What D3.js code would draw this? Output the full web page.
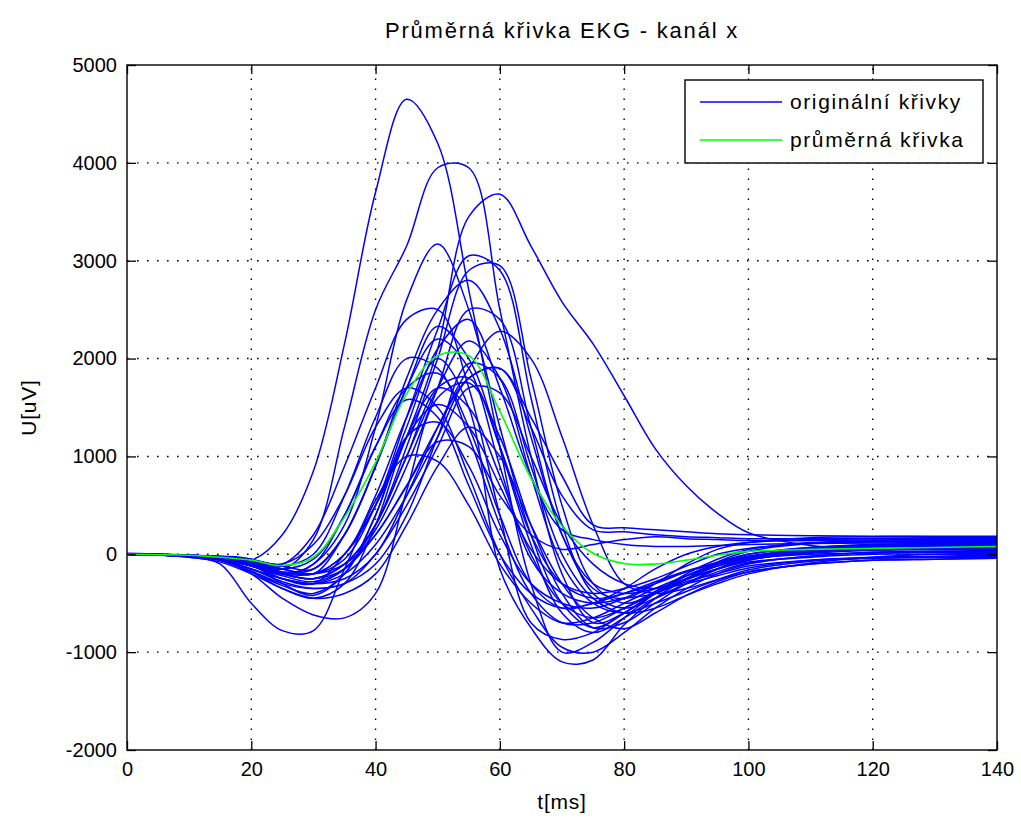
<!DOCTYPE html>
<html>
<head>
<meta charset="utf-8">
<script src="https://cdn.jsdelivr.net/npm/d3@7/dist/d3.min.js"></script>
<style>
  body { margin: 0; background: #fff; }
  svg { display: block; }
  text { font-family: "Liberation Sans", Arial, sans-serif; fill: #000; }
</style>
</head>
<body>
<svg width="1021" height="822"></svg>
<script>
// casy vzorku [ms] - spolecne pro vsechny krivky
var times = [0, 10, 15, 20, 25, 30, 35, 40, 45, 50, 55, 60, 65, 70, 75, 80, 85, 90, 95, 100, 110, 120, 130, 140];

// originalni krivky [uV]
var kA  = [0, -10, -40, -60, 200, 850, 2150, 3700, 4650, 4200, 2700, 1100, -300, -1000, -900, -650, -400, -220, -100, -20, 50, 80, 95, 100];
var kB  = [0, -10, -30, -80, -150, 150, 1300, 2500, 3150, 3950, 3950, 2500, 1000, -200, -700, -600, -400, -280, -200, -120, -60, -40, -30, -30];
var kC  = [10, -10, -40, -100, -250, -300, 0, 500, 1200, 2100, 3450, 3680, 3150, 2580, 2150, 1620, 1080, 700, 420, 220, 90, 60, 60, 60];
var kD  = [0, -20, -50, -120, -200, -100, 300, 1300, 2600, 3170, 2500, 1300, 200, -500, -750, -600, -400, -200, -50, 50, 120, 140, 150, 150];
var kE  = [0, -10, -30, -80, -180, -200, -50, 500, 1400, 2300, 3050, 2900, 1600, 300, -400, -550, -450, -300, -150, -30, 60, 100, 110, 120];
var kF  = [0, -20, -40, -100, -200, -250, -100, 300, 1100, 2000, 2900, 2950, 1800, 500, -300, -500, -400, -250, -120, -30, 30, 60, 70, 80];
var kG  = [0, -10, -30, -60, -120, -150, 200, 900, 1800, 2500, 2800, 2300, 1200, 200, -350, -450, -300, -100, 50, 120, 170, 180, 180, 180];
var kH  = [0, -10, -20, -50, -100, 200, 900, 1700, 2400, 2500, 1700, 400, -700, -870, -800, -600, -400, -250, -150, -80, -30, 0, 0, 0];
var kI  = [0, -20, -50, -150, -250, -300, -250, 0, 600, 1300, 1900, 2280, 2000, 1200, 300, -300, -400, -350, -260, -180, -100, -60, -50, -40];
var kJ  = [0, -10, -40, -100, -150, -200, 200, 900, 1700, 2330, 2000, 1100, 100, -600, -800, -650, -450, -300, -180, -90, -20, 20, 30, 40];
var kK  = [0, -20, -50, -120, -200, -200, 0, 600, 1400, 2000, 1500, -150, -750, -1100, -1080, -720, -450, -250, -80, 30, 110, 130, 140, 140];
var kL1 = [0, -30, -100, -500, -780, -780, -150, 550, 1000, 950, 500, -100, -500, -700, -650, -500, -350, -220, -120, -50, 0, 10, 20, 20];
var kL2 = [0, -20, -60, -200, -450, -620, -650, -400, 650, 1600, 1750, 1200, 300, -400, -750, -700, -500, -300, -150, -40, 50, 80, 90, 90];
var kM  = [0, -10, -40, -100, -200, -250, -100, 300, 1000, 1700, 2180, 1800, 800, -100, -500, -600, -500, -380, -260, -160, -70, -40, -30, -20];
var kN  = [0, -10, -30, -70, -150, -50, 400, 1100, 1700, 1850, 1300, 400, -300, -550, -500, -350, -150, 0, 80, 120, 150, 160, 160, 160];
var kO  = [0, -20, -50, -150, -250, -300, -150, 300, 1000, 1700, 1800, 1100, 200, -300, -450, -400, -300, -180, -80, 0, 70, 100, 110, 110];
var kP  = [0, -10, -20, -50, -200, -100, 400, 1100, 1580, 1400, 700, 0, -400, -550, -500, -400, -280, -170, -90, -30, 30, 60, 70, 70];
var kQ  = [0, -20, -60, -180, -320, -400, -200, 400, 1200, 1530, 1300, 700, 50, -300, -400, -350, -250, -120, 0, 60, 110, 125, 130, 130];
var kR  = [0, -20, -60, -170, -300, -350, -300, 0, 500, 1100, 1700, 1650, 1000, 300, -100, -300, -350, -300, -220, -140, -60, -30, -20, -10];
var kS  = [0, -10, -40, -120, -250, -300, -200, 100, 600, 1200, 1800, 1900, 1300, 600, 250, 230, 200, 180, 170, 160, 160, 165, 170, 170];
var kT  = [0, -10, -30, -80, -150, -200, 0, 500, 1300, 2100, 2400, 1700, 800, 250, 150, 100, 80, 80, 90, 100, 110, 115, 120, 120];
var kU  = [0, -20, -50, -100, -300, -420, -200, 400, 1200, 1350, 900, 200, -300, -500, -550, -450, -300, -180, -100, -40, 10, 40, 50, 50];
var kV  = [0, -20, -60, -150, -280, -350, -300, -100, 400, 1200, 1950, 1800, 900, 0, -450, -600, -550, -420, -300, -200, -90, -30, 0, 10];
var kW  = [0, -30, -80, -200, -350, -450, -400, -200, 300, 900, 1300, 1000, 300, -300, -650, -760, -600, -420, -280, -180, -100, -60, -50, -40];
var kY  = [0, -10, -30, -60, -100, 100, 600, 1300, 1700, 1500, 800, 0, -550, -950, -1000, -800, -550, -350, -200, -100, -20, 20, 30, 30];
var kZ  = [0, -10, -40, -100, -180, -150, 200, 900, 1700, 2200, 1900, 900, -50, -400, -500, -450, -400, -250, -100, 0, 70, 90, 100, 100];
var kAA = [0, -20, -50, -120, -220, -280, -150, 200, 700, 1300, 1800, 1900, 1400, 800, 300, 270, 250, 230, 210, 200, 190, 185, 185, 185];
var kAB = [0, -10, -30, -80, -150, -200, -100, 200, 700, 1150, 1100, 600, 200, 50, 100, 150, 180, 160, 150, 140, 140, 145, 150, 150];
var kAC = [0, -20, -50, -100, -200, -250, -150, 250, 900, 1700, 2500, 2400, 1300, 200, -300, -400, -350, -250, -150, -60, 20, 50, 60, 60];
var kAD = [0, -20, -60, -180, -350, -450, -300, 300, 1200, 1700, 1500, 800, 0, -500, -650, -550, -400, -260, -150, -60, 20, 60, 70, 80];
var kAE = [0, -10, -30, -70, -120, 0, 600, 1400, 2000, 1900, 1200, 300, -400, -700, -700, -550, -380, -220, -100, -20, 40, 70, 80, 90];

var originalCurves = [kA, kB, kC, kD, kE, kF, kG, kH, kI, kJ, kK, kL1, kL2, kM, kN, kO, kP, kQ, kR, kS,
    kT, kU, kV, kW, kY, kZ, kAA, kAB, kAC, kAD, kAE];

// prumerna krivka [uV]
var meanCurve = [0, -10, -30, -60, -115, -30, 380, 940, 1640, 2030, 2030, 1460, 780, 290, 10, -95, -100, -60, -10, 30, 50, 60, 70, 80];

// popisky os
var xTicks = [0, 20, 40, 60, 80, 100, 120, 140];
var yTicks = [-2000, -1000, 0, 1000, 2000, 3000, 4000, 5000];

var svg = d3.select("svg"),
    margin = { top: 65, right: 24, bottom: 72, left: 127 },
    width = +svg.attr("width") - margin.left - margin.right,
    height = +svg.attr("height") - margin.top - margin.bottom,
    g = svg.append("g").attr("transform", "translate(" + margin.left + "," + margin.top + ")");

var x = d3.scaleLinear().domain([0, 140]).range([0, width]);
var y = d3.scaleLinear().domain([-2000, 5000]).range([height, 0]);

// mrizka - teckovane cary
g.append("g")
    .selectAll("line")
    .data(xTicks.slice(1, -1))
    .enter().append("line")
    .attr("x1", function (d) { return x(d); })
    .attr("x2", function (d) { return x(d); })
    .attr("y1", height)
    .attr("y2", 0)
    .attr("stroke", "#000")
    .attr("stroke-width", 1.4)
    .attr("stroke-dasharray", "1.6,8.4");

g.append("g")
    .selectAll("line")
    .data(yTicks.slice(1, -1))
    .enter().append("line")
    .attr("y1", function (d) { return y(d); })
    .attr("y2", function (d) { return y(d); })
    .attr("x1", 0)
    .attr("x2", width)
    .attr("stroke", "#000")
    .attr("stroke-width", 1.4)
    .attr("stroke-dasharray", "1.6,8.4");

// krivky
g.append("clipPath").attr("id", "plotclip")
    .append("rect").attr("width", width).attr("height", height);

var line = d3.line()
    .x(function (d, i) { return x(times[i]); })
    .y(function (d) { return y(d); })
    .curve(d3.curveCatmullRom.alpha(0.5));

var plot = g.append("g").attr("clip-path", "url(#plotclip)");

plot.selectAll(".orig")
    .data(originalCurves)
    .enter().append("path")
    .attr("class", "orig")
    .attr("d", line)
    .attr("fill", "none")
    .attr("stroke", "#0000ff")
    .attr("stroke-width", 1.5);

plot.append("path")
    .datum(meanCurve)
    .attr("d", line)
    .attr("fill", "none")
    .attr("stroke", "#00ff00")
    .attr("stroke-width", 1.6);

// osy - znacky dovnitr jako v Matlabu
var xAxis = g.append("g")
    .attr("transform", "translate(0," + height + ")")
    .call(d3.axisBottom(x).tickValues(xTicks).tickSize(-9).tickPadding(12)
        .tickFormat(function (d) { return String(d); }));
var yAxis = g.append("g")
    .call(d3.axisLeft(y).tickValues(yTicks).tickSize(-9).tickPadding(10)
        .tickFormat(function (d) { return String(d); }));
g.append("g")
    .call(d3.axisTop(x).tickValues(xTicks).tickSize(-9).tickFormat(""));
g.append("g")
    .attr("transform", "translate(" + width + ",0)")
    .call(d3.axisRight(y).tickValues(yTicks).tickSize(-9).tickFormat(""));

g.selectAll(".domain").remove();
g.selectAll(".tick line").attr("stroke", "#000").attr("stroke-width", 1.3);
xAxis.selectAll("text").attr("font-size", 20).attr("font-family", null);
yAxis.selectAll("text").attr("font-size", 20).attr("font-family", null);

g.append("rect")
    .attr("width", width)
    .attr("height", height)
    .attr("fill", "none")
    .attr("stroke", "#000")
    .attr("stroke-width", 1.4);

// titulek a popisky os
svg.append("text")
    .attr("x", margin.left + width / 2)
    .attr("y", 38)
    .attr("text-anchor", "middle")
    .attr("font-size", 22)
    .attr("letter-spacing", 1.8)
    .text("Průměrná křivka EKG - kanál x");

svg.append("text")
    .attr("x", margin.left + width / 2)
    .attr("y", 809)
    .attr("text-anchor", "middle")
    .attr("font-size", 21)
    .attr("letter-spacing", 0.8)
    .text("t[ms]");

svg.append("text")
    .attr("transform", "translate(36," + (margin.top + height / 2) + ") rotate(-90)")
    .attr("text-anchor", "middle")
    .attr("font-size", 21)
    .attr("letter-spacing", 0.8)
    .text("U[uV]");

// legenda
var legendItems = ["originální křivky", "průměrná křivka"];
var legendColors = ["#0000ff", "#00ff00"];

var legend = svg.append("g").attr("transform", "translate(685,80)");
legend.append("rect")
    .attr("width", 298)
    .attr("height", 83)
    .attr("fill", "#fff")
    .attr("stroke", "#000")
    .attr("stroke-width", 1.4);

var item = legend.selectAll(".item")
    .data(legendItems)
    .enter().append("g")
    .attr("class", "item")
    .attr("transform", function (d, i) { return "translate(0," + (22 + i * 38) + ")"; });

item.append("line")
    .attr("x1", 15).attr("x2", 97)
    .attr("stroke", function (d, i) { return legendColors[i]; })
    .attr("stroke-width", 1.6);

item.append("text")
    .attr("x", 105)
    .attr("dy", "0.35em")
    .attr("font-size", 21)
    .attr("letter-spacing", 1.6)
    .text(function (d) { return d; });
</script>
</body>
</html>
